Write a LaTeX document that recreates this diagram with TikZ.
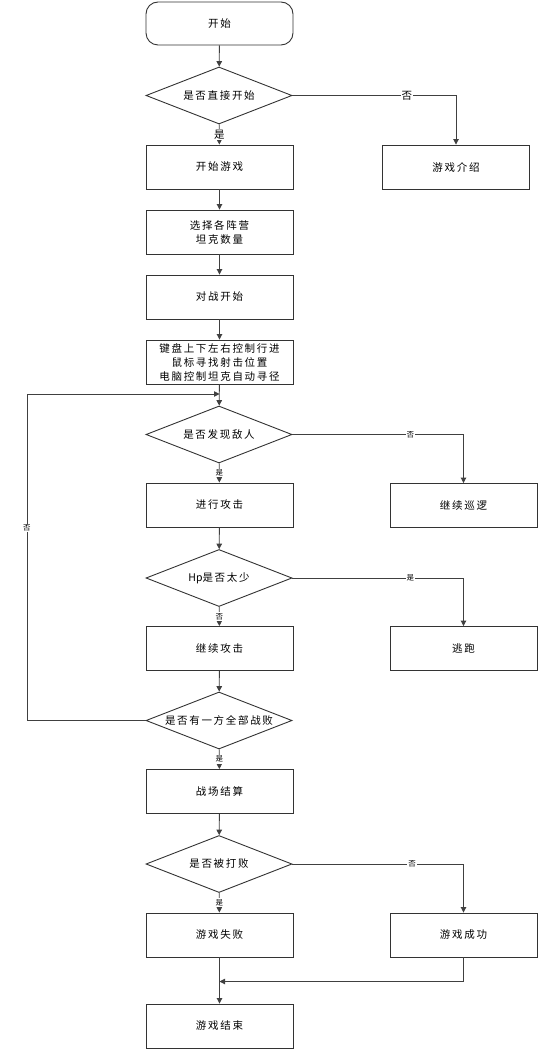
\documentclass[tikz,border=0pt]{standalone}
\usepackage{fontspec}
\newfontfamily\cjk[LetterSpace=16]{Noto Sans CJK SC}
\newfontfamily\cjkplain{Noto Sans CJK SC}
\newcommand\mainfnt{\cjk\fontsize{10.5}{14}\selectfont}
\newcommand\tinyfnt{\cjk\fontsize{7.5}{8}\selectfont}
\usetikzlibrary{shapes.geometric,arrows.meta}

\tikzset{
  box/.style={draw=black!80, line width=0.9pt, rectangle, minimum width=147pt,
    minimum height=44pt, inner sep=1pt, align=center, font=\mainfnt},
  startbox/.style={box, rounded corners=12pt, minimum height=43pt},
  decision/.style={draw=black!80, line width=0.9pt, diamond, aspect=2.56,
    minimum width=146pt, minimum height=57pt, inner sep=0pt, font=\mainfnt},
  flow/.style={draw=black!75, line width=0.9pt, -{Triangle[width=5.5pt,length=5.5pt]}},
  lbl/.style={fill=white, inner sep=1pt, font=\mainfnt},
  lblsm/.style={fill=white, inner sep=1pt, font=\tinyfnt},
}

\begin{document}
\begin{tikzpicture}[x=1pt,y=-1pt]
\useasboundingbox (0,0) rectangle (539,1051);

% main column and side branches
\node[startbox] (start)  at (219.5,23.5)  {开始};
\node[decision] (d1)     at (219,95.5)    {是否直接开始};
\node[box]      (play)   at (219.5,167)   {开始游戏};
\node[box]      (intro)  at (456,167)     {游戏介绍};
\node[box]      (select) at (219.5,232)   {选择各阵营\\坦克数量};
\node[box]      (battle) at (219.5,297)   {对战开始};
\node[box]      (ctrl)   at (219.5,362)   {键盘上下左右控制行进\\鼠标寻找射击位置\\电脑控制坦克自动寻径};
\node[decision] (d2)     at (219,434.5)   {是否发现敌人};
\node[box]      (attack) at (219.5,505)   {进行攻击};
\node[box]      (patrol) at (463.5,505.5) {继续巡逻};
\node[decision] (d3)     at (219,578)     {{\cjkplain Hp}是否太少};
\node[box]      (keep)   at (219.5,648.5) {继续攻击};
\node[box]      (flee)   at (463.5,648.5) {逃跑};
\node[decision] (d4)     at (219,720.5)   {是否有一方全部战败};
\node[box]      (settle) at (219.5,791.5) {战场结算};
\node[decision] (d5)     at (219,864)     {是否被打败};
\node[box]      (lose)   at (219.5,935)   {游戏失败};
\node[box]      (win)    at (463.5,935)   {游戏成功};
\node[box]      (fin)    at (219.5,1026)  {游戏结束};

\coordinate (loopin) at (219.5,394);
\coordinate (join)   at (219.5,981.5);

% connectors
\draw[flow] (start) -- (d1);
\draw[flow] (d1) -- node[lbl] {是} (play);
\draw[flow] (d1.east) -- node[lbl,pos=0.7] {否} (intro.north |- d1.east) -- (intro.north);
\draw[flow] (play) -- (select);
\draw[flow] (select) -- (battle);
\draw[flow] (battle) -- (ctrl);
\draw[flow] (ctrl) -- (d2);
\draw[flow] (d2) -- node[lblsm] {是} (attack);
\draw[flow] (d2.east) -- node[lblsm,pos=0.69] {否} (patrol.north |- d2.east) -- (patrol.north);
\draw[flow] (attack) -- (d3);
\draw[flow] (d3) -- node[lblsm] {否} (keep);
\draw[flow] (d3.east) -- node[lblsm,pos=0.69] {是} (flee.north |- d3.east) -- (flee.north);
\draw[flow] (keep) -- (d4);
\draw[flow] (d4.west) -- (27,720.5) -- node[lblsm,pos=0.59] {否} (27,394) -- (loopin);
\draw[flow] (d4) -- node[lblsm] {是} (settle);
\draw[flow] (settle) -- (d5);
\draw[flow] (d5) -- node[lblsm] {是} (lose);
\draw[flow] (d5.east) -- node[lblsm,pos=0.7] {否} (win.north |- d5.east) -- (win.north);
\draw[flow] (lose) -- (fin);
\draw[flow] (win.south) |- (join);
\end{tikzpicture}
\end{document}
